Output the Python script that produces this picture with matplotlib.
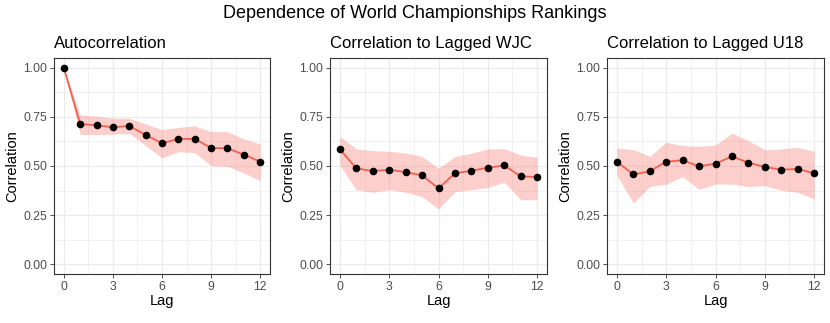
import numpy as np
import matplotlib
matplotlib.use("Agg")
import matplotlib.pyplot as plt

plt.rcParams["font.family"] = ["Liberation Sans", "DejaVu Sans"]

LAGS = list(range(13))

AUTO_MEAN = [1.00, 0.714, 0.707, 0.697, 0.704, 0.658, 0.616, 0.638, 0.638, 0.592, 0.590, 0.558, 0.522]
AUTO_LO = [1.00, 0.660, 0.660, 0.663, 0.667, 0.604, 0.541, 0.573, 0.568, 0.502, 0.498, 0.464, 0.425]
AUTO_HI = [1.00, 0.760, 0.753, 0.743, 0.743, 0.714, 0.685, 0.697, 0.704, 0.675, 0.675, 0.638, 0.612]

WJC_MEAN = [0.585, 0.488, 0.474, 0.481, 0.469, 0.452, 0.386, 0.463, 0.476, 0.491, 0.503, 0.447, 0.444]
WJC_LO = [0.505, 0.378, 0.366, 0.379, 0.366, 0.344, 0.281, 0.369, 0.379, 0.391, 0.417, 0.328, 0.328]
WJC_HI = [0.651, 0.587, 0.578, 0.575, 0.566, 0.549, 0.488, 0.548, 0.565, 0.587, 0.588, 0.556, 0.544]

U18_MEAN = [0.522, 0.457, 0.473, 0.522, 0.529, 0.498, 0.512, 0.549, 0.517, 0.495, 0.481, 0.485, 0.463]
U18_LO = [0.451, 0.311, 0.395, 0.408, 0.446, 0.381, 0.408, 0.408, 0.395, 0.400, 0.376, 0.366, 0.332]
U18_HI = [0.592, 0.583, 0.549, 0.621, 0.604, 0.600, 0.607, 0.667, 0.629, 0.583, 0.587, 0.595, 0.575]

TITLES = ["Autocorrelation", "Correlation to Lagged WJC", "Correlation to Lagged U18"]

fig = plt.figure(figsize=(8.3, 3.23), dpi=100)
W, H = 830, 323
boxes = [(54, 270), (330, 547), (607, 824)]
top, bottom = 58, 274

panels = [(AUTO_MEAN, AUTO_LO, AUTO_HI), (WJC_MEAN, WJC_LO, WJC_HI), (U18_MEAN, U18_LO, U18_HI)]
for (x0, x1), (m, lo, hi), title in zip(boxes, panels, TITLES):
    ax = fig.add_axes([x0 / W, 1 - bottom / H, (x1 - x0) / W, (bottom - top) / H])
    ax.fill_between(LAGS, lo, hi, color="#F8766D", alpha=0.35, linewidth=0, zorder=2)
    ax.plot(LAGS, m, color="#F4604F", linewidth=1.3, zorder=3)
    ax.scatter(LAGS, m, color="black", s=20, zorder=4)
    ax.set_xlim(-0.6, 12.6)
    ax.set_ylim(-0.05, 1.05)
    ax.set_xticks([0, 3, 6, 9, 12])
    ax.set_yticks([0, 0.25, 0.5, 0.75, 1.0])
    ax.set_yticklabels(["0.00", "0.25", "0.50", "0.75", "1.00"])
    ax.set_xticks([1.5, 4.5, 7.5, 10.5], minor=True)
    ax.set_yticks([0.125, 0.375, 0.625, 0.875], minor=True)
    ax.grid(which="major", color="#EBEBEB", linewidth=0.9, zorder=0)
    ax.grid(which="minor", color="#EBEBEB", linewidth=0.5, zorder=0)
    ax.set_axisbelow(True)
    ax.tick_params(which="major", labelsize=8.8, labelcolor="#4D4D4D", color="#333333",
                   length=3, width=0.6, pad=2)
    ax.tick_params(which="minor", length=0)
    for s in ax.spines.values():
        s.set_color("#333333")
        s.set_linewidth(0.8)
    ax.set_xlabel("Lag", fontsize=10.5, labelpad=1)
    ax.set_ylabel("Correlation", fontsize=10.5, labelpad=3)
    ax.set_title(title, fontsize=12, loc="left", pad=7)

fig.suptitle("Dependence of World Championships Rankings", fontsize=13, y=0.985)
fig.savefig("out.png", dpi=100)
